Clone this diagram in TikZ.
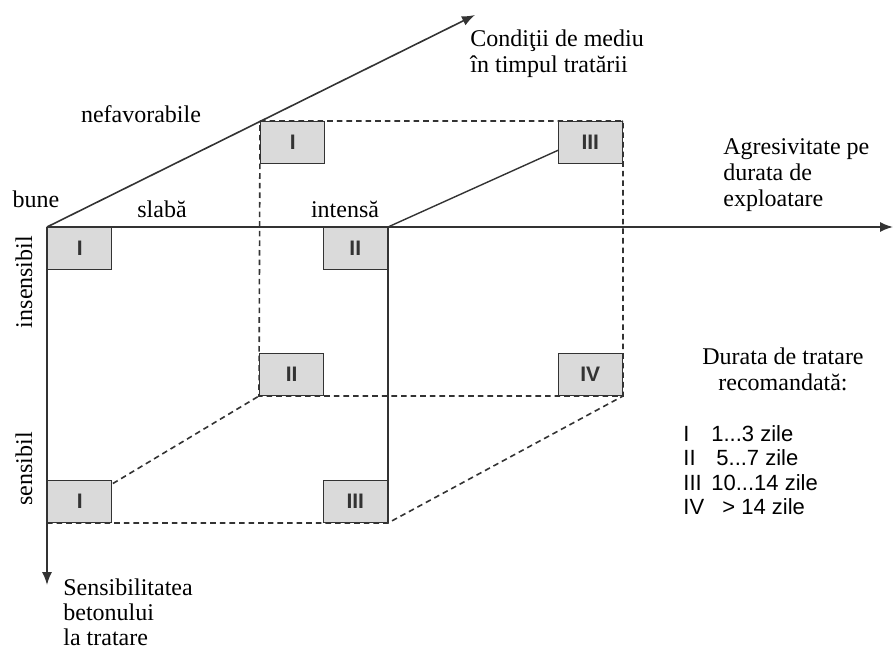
\documentclass[tikz,border=0pt]{standalone}
\usepackage{fontspec}
\setmainfont{Liberation Serif}
\setsansfont{Liberation Sans}
\usetikzlibrary{arrows.meta, positioning}
\definecolor{ink}{HTML}{333333}
\definecolor{boxfill}{HTML}{DADADA}
\tikzset{
  axis/.style={ink, line width=0.8pt, -{Latex[length=6.5pt,width=5pt]}},
  edge/.style={ink, line width=0.7pt},
  hidden/.style={ink, line width=0.8pt, dash pattern=on 2.8pt off 2pt},
  cls/.style={draw=ink, fill=boxfill, line width=0.7pt, minimum width=32pt, minimum height=21pt, inner sep=0pt, font=\sffamily\bfseries\fontsize{10.5}{12}\selectfont, text=ink},
  lbl/.style={font=\fontsize{12}{13}\selectfont, inner sep=0pt}
}
\newcommand{\rn}[2]{\makebox[0pt][l]{#1}\hspace{#2}}

\begin{document}
\begin{tikzpicture}[x=0.5pt,y=0.5pt]
\useasboundingbox (-47,-425) rectangle (846,227);
% corners of the block
\coordinate (o) at (0,0);
\coordinate (fr) at (341,0);
\coordinate (fbl) at (0,-296);
\coordinate (fbr) at (341,-296);
\coordinate (btl) at (213,106);
\coordinate (btr) at (576,106);
\coordinate (bbl) at (212,-169);
\coordinate (bbr) at (576,-169);
\coordinate (xend) at (846,0);
\coordinate (yend) at (0,-358);
\coordinate (zend) at (428,212);

% axes
\draw[axis] (o) -- (xend);
\draw[axis] (o) -- (yend);
\draw[axis] (o) -- (zend);
% edges
\draw[edge] (fr) -- (btr);
\draw[edge] (fr) -- (fbr);
\draw[hidden] (btl) -- (btr) -- (bbr) -- (bbl) -- cycle;
\draw[hidden] (fbl) -- (fbr) -- (bbr);
\draw[hidden] (fbl) -- (bbl);

% classes
\node[cls, anchor=north west] (cA) at (o) {I};
\node[cls, anchor=north east] (cB) at (fr) {II};
\node[cls, anchor=south west] (cC) at (fbl) {I};
\node[cls, anchor=south east] (cD) at (fbr) {III};
\node[cls, anchor=north west] (cE) at (btl) {I};
\node[cls, anchor=north east] (cF) at (btr) {III};
\node[cls, anchor=south west] (cG) at (bbl) {II};
\node[cls, anchor=south east] (cH) at (bbr) {IV};

% labels
\node[lbl] (bune) at (-11,28) {bune};
\node[lbl] (slaba) at (115,18) {slabă};
\node[lbl] (intensa) at (298,18) {intensă};
\node[lbl] (nefav) at (94,113) {nefavorabile};
\node[lbl, rotate=90] (insens) at (-23,-55) {insensibil};
\node[lbl, rotate=90] (sens) at (-23,-242) {sensibil};
\node[lbl, align=left, anchor=west] (cond) at (423,173) {Condiţii de mediu\\în timpul tratării};
\node[lbl, align=left, anchor=west] (agres) at (676,52) {Agresivitate pe\\durata de\\exploatare};
\node[lbl, align=left, anchor=west, font=\fontsize{12}{12.5}\selectfont] (sensib) at (16,-385) {Sensibilitatea\\betonului\\la tratare};
\node[lbl, align=center] (durata) at (736,-142) {Durata de tratare\\recomandată:};
\node[lbl, align=left, anchor=west, font=\sffamily\fontsize{11}{12.25}\selectfont] (lista) at (636,-243)
  {\rn{I}{14pt}1...3 zile\\\rn{II}{16.5pt}5...7 zile\\\rn{III}{14pt}10...14 zile\\\rn{IV}{19.5pt}> 14 zile};
\end{tikzpicture}
\end{document}
